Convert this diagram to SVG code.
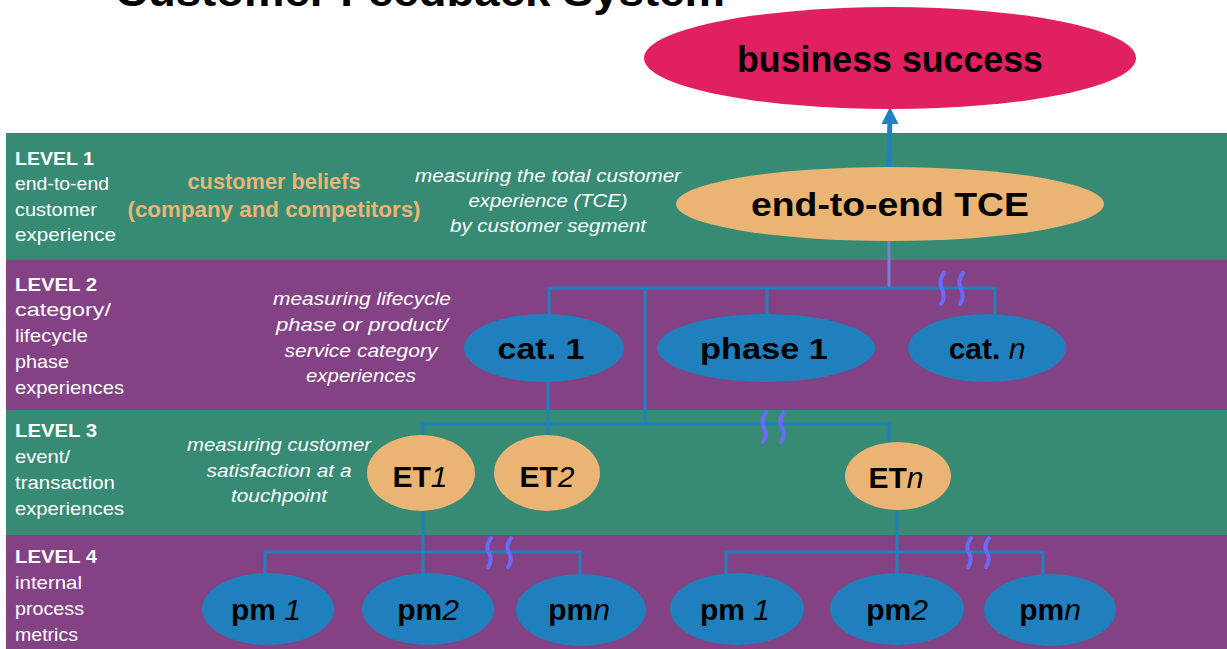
<svg xmlns="http://www.w3.org/2000/svg" width="1227" height="649" viewBox="0 0 1227 649">
  <style>
    .title { font-family: "Liberation Sans", Arial, sans-serif; font-weight: bold; fill: #000; }
    .lvl { font-family: "Liberation Sans", Arial, sans-serif; font-weight: bold; font-size: 19px; fill: #fff; }
    .lvltxt { font-family: "Liberation Sans", Arial, sans-serif; font-size: 19px; fill: #fff; }
    .note { font-family: "Liberation Sans", Arial, sans-serif; font-style: italic; font-size: 18px; fill: #fff; text-anchor: middle; }
    .belief { font-family: "Liberation Sans", Arial, sans-serif; font-weight: bold; font-size: 22px; fill: #EAB574; text-anchor: middle; }
    .lab { font-family: "Liberation Sans", Arial, sans-serif; font-weight: bold; fill: #000; text-anchor: middle; }
    .it { font-style: italic; font-weight: normal; }
    .blue { fill: #2080BE; }
    .orange { fill: #EAB574; }
    .pink { fill: #E12062; }
    .conn { fill: none; stroke: #2080BE; stroke-width: 3; }
    .gap { fill: none; stroke: #6A6AFF; stroke-width: 4; stroke-linecap: round; }
  </style>

  <!-- page background -->
  <rect x="0" y="0" width="1227" height="649" fill="#fff"/>

  <!-- level bands -->
  <g id="bands">
    <rect x="6" y="133" width="1221" height="127" fill="#378A73"/>
    <rect x="6" y="260" width="1221" height="150" fill="#834284"/>
    <rect x="6" y="410" width="1221" height="125" fill="#378A73"/>
    <rect x="6" y="535" width="1221" height="114" fill="#834284"/>
  </g>

  <!-- heading -->
  <text class="title" x="115" y="6" font-size="42" textLength="610" lengthAdjust="spacingAndGlyphs">Customer Feedback System</text>

  <!-- level captions -->
  <g id="level-captions">
    <text class="lvl" x="15" y="165" textLength="79" lengthAdjust="spacingAndGlyphs">LEVEL 1</text>
    <text class="lvltxt" x="15" y="190" textLength="94" lengthAdjust="spacingAndGlyphs">end-to-end</text>
    <text class="lvltxt" x="15" y="216" textLength="82" lengthAdjust="spacingAndGlyphs">customer</text>
    <text class="lvltxt" x="15" y="241" textLength="101" lengthAdjust="spacingAndGlyphs">experience</text>

    <text class="lvl" x="15" y="291" textLength="82" lengthAdjust="spacingAndGlyphs">LEVEL 2</text>
    <text class="lvltxt" x="15" y="316" textLength="96" lengthAdjust="spacingAndGlyphs">category/</text>
    <text class="lvltxt" x="15" y="342" textLength="73" lengthAdjust="spacingAndGlyphs">lifecycle</text>
    <text class="lvltxt" x="15" y="368" textLength="54" lengthAdjust="spacingAndGlyphs">phase</text>
    <text class="lvltxt" x="15" y="394" textLength="109" lengthAdjust="spacingAndGlyphs">experiences</text>

    <text class="lvl" x="15" y="437" textLength="82" lengthAdjust="spacingAndGlyphs">LEVEL 3</text>
    <text class="lvltxt" x="15" y="463" textLength="55" lengthAdjust="spacingAndGlyphs">event/</text>
    <text class="lvltxt" x="15" y="489" textLength="100" lengthAdjust="spacingAndGlyphs">transaction</text>
    <text class="lvltxt" x="15" y="515" textLength="109" lengthAdjust="spacingAndGlyphs">experiences</text>

    <text class="lvl" x="15" y="563" textLength="82" lengthAdjust="spacingAndGlyphs">LEVEL 4</text>
    <text class="lvltxt" x="15" y="589" textLength="67" lengthAdjust="spacingAndGlyphs">internal</text>
    <text class="lvltxt" x="15" y="615" textLength="69" lengthAdjust="spacingAndGlyphs">process</text>
    <text class="lvltxt" x="15" y="641" textLength="63" lengthAdjust="spacingAndGlyphs">metrics</text>
  </g>

  <!-- explanatory notes -->
  <g id="notes">
    <text class="belief" x="274" y="189" textLength="173" lengthAdjust="spacingAndGlyphs">customer beliefs</text>
    <text class="belief" x="274" y="217" textLength="293" lengthAdjust="spacingAndGlyphs">(company and competitors)</text>

    <text class="note" x="548" y="182" textLength="266" lengthAdjust="spacingAndGlyphs">measuring the total customer</text>
    <text class="note" x="548" y="207" textLength="159" lengthAdjust="spacingAndGlyphs">experience (TCE)</text>
    <text class="note" x="548" y="232" textLength="196" lengthAdjust="spacingAndGlyphs">by customer segment</text>

    <text class="note" x="362" y="305" textLength="178" lengthAdjust="spacingAndGlyphs">measuring lifecycle</text>
    <text class="note" x="362" y="331" textLength="172" lengthAdjust="spacingAndGlyphs">phase or product/</text>
    <text class="note" x="361" y="357" textLength="153" lengthAdjust="spacingAndGlyphs">service category</text>
    <text class="note" x="361" y="382" textLength="110" lengthAdjust="spacingAndGlyphs">experiences</text>

    <text class="note" x="279" y="451" textLength="184" lengthAdjust="spacingAndGlyphs">measuring customer</text>
    <text class="note" x="279" y="477" textLength="145" lengthAdjust="spacingAndGlyphs">satisfaction at a</text>
    <text class="note" x="279" y="502" textLength="96" lengthAdjust="spacingAndGlyphs">touchpoint</text>
  </g>

  <!-- connectors -->
  <g id="connectors">
    <!-- TCE up to business success -->
    <line x1="888.5" y1="168" x2="890" y2="120" stroke="#2080BE" stroke-width="5"/>
    <polygon points="890,107 881.5,124 898.5,124" fill="#2080BE"/>
    <!-- TCE down to level 2 -->
    <line x1="889" y1="240" x2="889" y2="288" stroke="#7B7FD2" stroke-width="3"/>
    <!-- level 2 bar and drops -->
    <path class="conn" d="M549,316 V288 H995 V316"/>
    <line class="conn" x1="767" y1="288" x2="767" y2="316"/>
    <path class="conn" d="M645,288 V424"/>
    <!-- cat. 1 down to ET 2 -->
    <line class="conn" x1="548" y1="380" x2="548" y2="437"/>
    <!-- level 3 bar -->
    <path class="conn" d="M423,440 V424 H889 V445"/>
    <!-- ET 1 down to level 4 left group -->
    <line class="conn" x1="423" y1="508" x2="423" y2="576"/>
    <path class="conn" d="M265,576 V552 H580 V576"/>
    <!-- ET n down to level 4 right group -->
    <line class="conn" x1="897" y1="508" x2="897" y2="576"/>
    <path class="conn" d="M726,576 V552 H1043 V576"/>

    <!-- break marks -->
    <path class="gap" d="M944,273 Q938,281 942,289 T941,304"/>
    <path class="gap" d="M963,273 Q957,281 961,289 T960,304"/>
    <path class="gap" d="M766,412 Q760,420 764,428 T763,442"/>
    <path class="gap" d="M784,412 Q778,420 782,428 T781,442"/>
    <path class="gap" d="M491,538 Q485,546 489,553 T488,567"/>
    <path class="gap" d="M511,538 Q505,546 509,553 T508,567"/>
    <path class="gap" d="M971,538 Q965,546 969,553 T968,567"/>
    <path class="gap" d="M989,538 Q983,546 987,553 T986,567"/>
  </g>

  <!-- goal -->
  <g id="business-success">
    <ellipse class="pink" cx="890" cy="58" rx="246" ry="51"/>
    <text class="lab" x="890" y="72" font-size="37" textLength="306" lengthAdjust="spacingAndGlyphs">business success</text>
  </g>

  <!-- level 1 -->
  <g id="tce">
    <ellipse class="orange" cx="890" cy="204" rx="214" ry="37"/>
    <text class="lab" x="890" y="216" font-size="33" textLength="278" lengthAdjust="spacingAndGlyphs">end-to-end TCE</text>
  </g>

  <!-- level 2 -->
  <g id="cat-1">
    <ellipse class="blue" cx="544" cy="348" rx="80" ry="34"/>
    <text class="lab" x="541" y="359" font-size="30" textLength="87" lengthAdjust="spacingAndGlyphs">cat. 1</text>
  </g>
  <g id="phase-1">
    <ellipse class="blue" cx="766" cy="348" rx="109" ry="34"/>
    <text class="lab" x="764" y="359" font-size="30" textLength="128" lengthAdjust="spacingAndGlyphs">phase 1</text>
  </g>
  <g id="cat-n">
    <ellipse class="blue" cx="987" cy="348" rx="79" ry="34"/>
    <text class="lab" x="987" y="359" font-size="30">cat. <tspan class="it">n</tspan></text>
  </g>

  <!-- level 3 -->
  <g id="et-1">
    <ellipse class="orange" cx="421" cy="473" rx="54" ry="38"/>
    <text class="lab" x="420" y="487" font-size="30">ET<tspan class="it">1</tspan></text>
  </g>
  <g id="et-2">
    <ellipse class="orange" cx="547" cy="473" rx="53" ry="38"/>
    <text class="lab" x="547" y="487" font-size="30">ET<tspan class="it">2</tspan></text>
  </g>
  <g id="et-n">
    <ellipse class="orange" cx="898" cy="476" rx="53" ry="34"/>
    <text class="lab" x="896" y="488" font-size="30">ET<tspan class="it">n</tspan></text>
  </g>

  <!-- level 4, left group -->
  <g id="pm-1a">
    <ellipse class="blue" cx="268" cy="609" rx="66" ry="36"/>
    <text class="lab" x="266" y="620" font-size="30">pm <tspan class="it">1</tspan></text>
  </g>
  <g id="pm-2a">
    <ellipse class="blue" cx="428" cy="609" rx="66" ry="36"/>
    <text class="lab" x="428" y="620" font-size="30">pm<tspan class="it">2</tspan></text>
  </g>
  <g id="pm-na">
    <ellipse class="blue" cx="581" cy="610" rx="65" ry="36"/>
    <text class="lab" x="579" y="620" font-size="30">pm<tspan class="it">n</tspan></text>
  </g>

  <!-- level 4, right group -->
  <g id="pm-1b">
    <ellipse class="blue" cx="737" cy="609" rx="67" ry="36"/>
    <text class="lab" x="735" y="620" font-size="30">pm <tspan class="it">1</tspan></text>
  </g>
  <g id="pm-2b">
    <ellipse class="blue" cx="897" cy="609" rx="67" ry="36"/>
    <text class="lab" x="897" y="620" font-size="30">pm<tspan class="it">2</tspan></text>
  </g>
  <g id="pm-nb">
    <ellipse class="blue" cx="1050" cy="610" rx="66" ry="36"/>
    <text class="lab" x="1050" y="620" font-size="30">pm<tspan class="it">n</tspan></text>
  </g>
</svg>
